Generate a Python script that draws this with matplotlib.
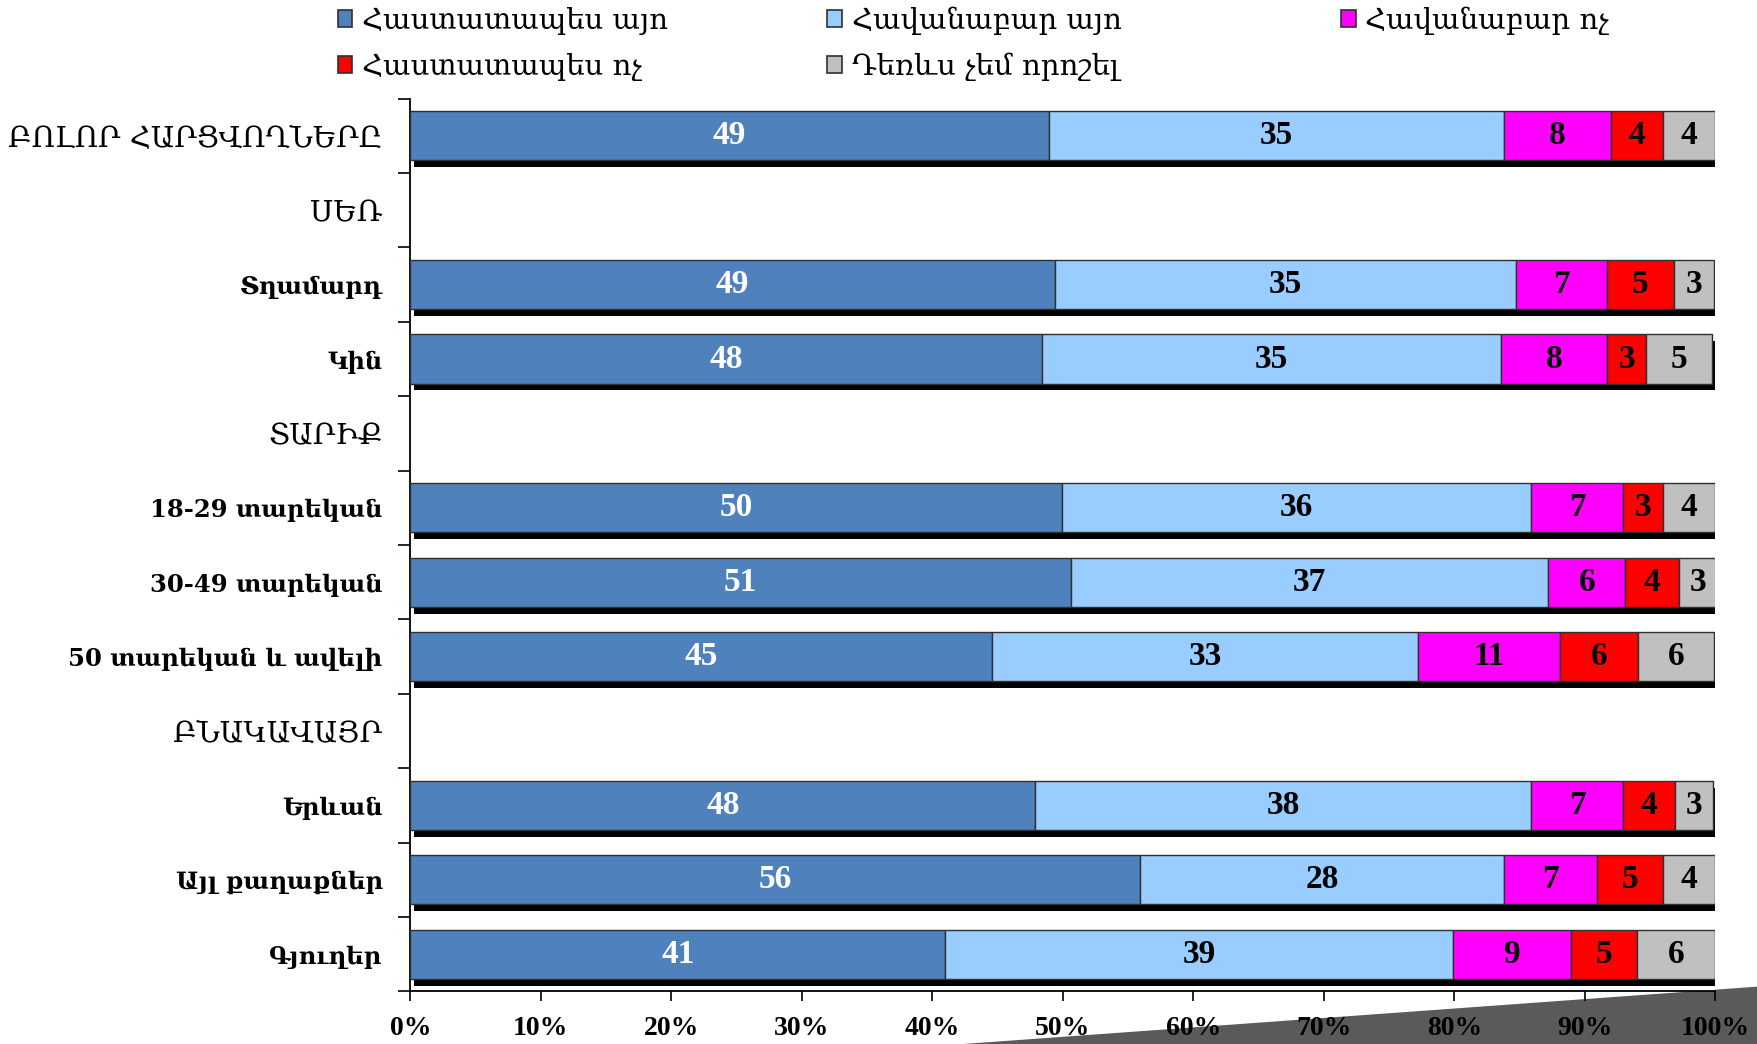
import matplotlib
matplotlib.use('Agg')
import matplotlib.pyplot as plt
import matplotlib.patheffects as pe
from matplotlib.patches import Rectangle, Polygon

# y-axis categories (header rows have no bars)
categories = ["ԲՈԼՈՐ ՀԱՐՑՎՈՂՆԵՐԸ", "ՍԵՌ", "Տղամարդ", "Կին", "ՏԱՐԻՔ",
              "18-29 տարեկան", "30-49 տարեկան", "50 տարեկան և ավելի",
              "ԲՆԱԿԱՎԱՅՐ", "Երևան", "Այլ քաղաքներ", "Գյուղեր"]
headers = ["ԲՈԼՈՐ ՀԱՐՑՎՈՂՆԵՐԸ", "ՍԵՌ", "ՏԱՐԻՔ", "ԲՆԱԿԱՎԱՅՐ"]

rows = ["ԲՈԼՈՐ ՀԱՐՑՎՈՂՆԵՐԸ", "Տղամարդ", "Կին", "18-29 տարեկան", "30-49 տարեկան",
        "50 տարեկան և ավելի", "Երևան", "Այլ քաղաքներ", "Գյուղեր"]
def_yes = [48.9, 49.4, 48.4, 49.9, 50.6, 44.6, 47.9, 55.9, 41.0]
prob_yes = [34.9, 35.3, 35.2, 36.0, 36.6, 32.6, 38.0, 27.9, 38.9]
prob_no = [8.2, 7.0, 8.1, 7.0, 5.9, 10.9, 7.0, 7.1, 9.0]
def_no = [4.0, 5.1, 3.0, 3.1, 4.1, 6.0, 4.0, 5.1, 5.1]
undecided = [4.0, 3.1, 5.0, 4.0, 2.9, 5.8, 2.9, 4.0, 6.0]

series_names = ["Հաստատապես այո", "Հավանաբար այո", "Հավանաբար ոչ",
                "Հաստատապես ոչ", "Դեռևս չեմ որոշել"]
series = [def_yes, prob_yes, prob_no, def_no, undecided]
colors = ['#4F81BD', '#99CCFF', '#FF00FF', '#FF0000', '#C0C0C0']
text_colors = ['white', 'black', 'black', 'black', 'black']

xticks = [0, 10, 20, 30, 40, 50, 60, 70, 80, 90, 100]

serif = ['Liberation Serif', 'DejaVu Serif']
plt.rcParams['font.family'] = serif

fig = plt.figure(figsize=(17.58, 10.44), dpi=100)
ax = fig.add_axes([0.2334, 0.0505, 0.7424, 0.855])

ypos = [categories.index(r) for r in rows]
shadow = [pe.SimplePatchShadow(offset=(3, -5), shadow_rgbFace='black', alpha=1.0), pe.Normal()]

left = [0.0] * len(rows)
for vals, col, tcol in zip(series, colors, text_colors):
    bars = ax.barh(ypos, vals, left=left, height=0.66, color=col,
                   edgecolor='#303030', linewidth=1.0, zorder=3)
    for b in bars:
        b.set_path_effects(shadow)
    for y, l, v in zip(ypos, left, vals):
        ax.text(l + v / 2, y, f"{v:.0f}", ha='center', va='center', color=tcol,
                fontsize=24, fontweight='bold', family='Liberation Serif', zorder=5)
    left = [a + b for a, b in zip(left, vals)]

ax.set_xlim(0, 100)
ax.set_ylim(len(categories) - 0.5, -0.5)
ax.set_xticks(xticks)
ax.set_xticklabels([f"{t}%" for t in xticks], fontsize=20, fontweight='bold',
                   family='Liberation Serif')
ax.tick_params(axis='x', length=7, width=1.2, pad=11, direction='out')

ax.set_yticks(range(len(categories)))
ax.set_yticklabels(categories)
for lab in ax.get_yticklabels():
    lab.set_family('DejaVu Serif')
    if lab.get_text() in headers:
        lab.set_fontsize(21)
    else:
        lab.set_fontsize(17.5)
        lab.set_fontweight('bold')
ax.set_yticks([i - 0.5 for i in range(len(categories) + 1)], minor=True)
ax.tick_params(axis='y', which='major', length=0, pad=20)
ax.tick_params(axis='y', which='minor', length=9, width=1.2)

for s in ['top', 'right']:
    ax.spines[s].set_visible(False)
for s in ['left', 'bottom']:
    ax.spines[s].set_linewidth(1.3)
    ax.spines[s].set_color('black')

# legend, two rows across the top
leg_x = [0.192, 0.4707, 0.7628]
leg_y = [0.982, 0.938]
for i, (name, col) in enumerate(zip(series_names, colors)):
    r, c = divmod(i, 3)
    x, y = leg_x[c], leg_y[r]
    fig.patches.append(Rectangle((x, y - 0.0075), 0.0085, 0.016, transform=fig.transFigure,
                                 facecolor=col, edgecolor='#303030', linewidth=1.2))
    fig.text(x + 0.0137, y - 0.002, name, fontsize=21, va='center', ha='left',
             family='DejaVu Serif')

# grey wedge in the bottom-right corner
fig.patches.append(Polygon([(0.548, 0.0), (1.0, 0.055), (1.0, 0.0)], closed=True,
                           transform=fig.transFigure, facecolor='#5a5a5a',
                           edgecolor='none', zorder=-1))

fig.savefig('out.png', dpi=100)
